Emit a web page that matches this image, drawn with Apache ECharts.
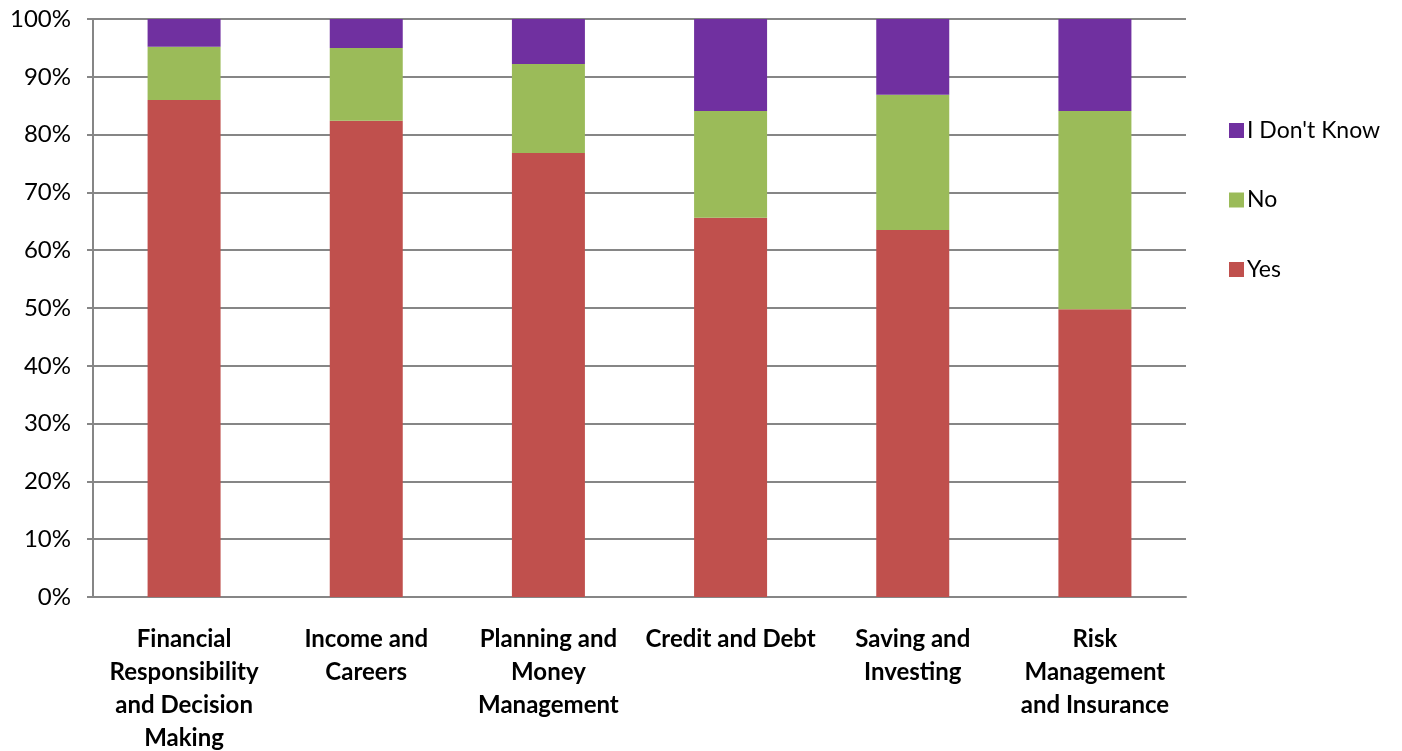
<!DOCTYPE html>
<html>
<head>
<meta charset="utf-8">
<script src="https://cdn.jsdelivr.net/npm/echarts@6/dist/echarts.min.js"></script>
<style>
  html, body { margin: 0; padding: 0; background: #ffffff; }
  #chart { width: 1402px; height: 751px; }
</style>
</head>
<body>
<div id="chart"></div>
<script>
// Topic areas (line breaks as shown under each bar)
const categories = [
  'Financial\nResponsibility\nand Decision\nMaking',
  'Income and\nCareers',
  'Planning and\nMoney\nManagement',
  'Credit and Debt',
  'Saving and\nInvesting',
  'Risk\nManagement\nand Insurance'
];

// Share of responses, percent
const yesValues      = [86.0, 82.4, 76.8, 65.6, 63.5, 49.8];
const noValues       = [9.2, 12.6, 15.4, 18.5, 23.4, 34.3];
const dontKnowValues = [4.8, 5.0, 7.8, 15.9, 13.1, 15.9];

const yTicks = [0, 10, 20, 30, 40, 50, 60, 70, 80, 90, 100];

const font = 'Lato, "Open Sans", sans-serif';

const chart = echarts.init(document.getElementById('chart'));

chart.setOption({
  animation: false,
  backgroundColor: '#ffffff',
  grid: {
    left: 93, right: 216, top: 19, bottom: 154,
    containLabel: false,
    outerBoundsMode: 'none'
  },
  legend: {
    orient: 'vertical',
    left: 1224,
    top: 114,
    itemWidth: 15,
    itemHeight: 15,
    itemGap: 46.5,
    icon: 'rect',
    textStyle: { fontFamily: font, fontSize: 23, lineHeight: 20, color: '#000000', padding: [0, 0, 0, -2] },
    data: ["I Don't Know", 'No', 'Yes']
  },
  xAxis: {
    type: 'category',
    data: categories,
    axisLine: { show: true, lineStyle: { color: '#868686', width: 2 } },
    axisTick: { show: false },
    axisLabel: {
      interval: 0,
      margin: 26,
      fontFamily: font,
      fontSize: 24,
      fontWeight: 'bold',
      color: '#000000',
      lineHeight: 33,
      align: 'center'
    }
  },
  yAxis: {
    type: 'value',
    min: 0,
    max: 100,
    interval: 10,
    axisLine: { show: true, lineStyle: { color: '#868686', width: 2 } },
    axisTick: { show: true, length: 6, inside: false, lineStyle: { color: '#868686', width: 2 } },
    splitLine: { show: true, lineStyle: { color: '#868686', width: 2 } },
    axisLabel: {
      margin: 22,
      fontFamily: font,
      fontSize: 24,
      color: '#000000',
      formatter: v => (yTicks.includes(v) ? v + '%' : '')
    }
  },
  series: [
    {
      name: 'Yes', type: 'bar', stack: 'total', barWidth: 73,
      itemStyle: { color: '#C0504D' }, data: yesValues
    },
    {
      name: 'No', type: 'bar', stack: 'total', barWidth: 73,
      itemStyle: { color: '#9BBB59' }, data: noValues
    },
    {
      name: "I Don't Know", type: 'bar', stack: 'total', barWidth: 73,
      itemStyle: { color: '#7030A0' }, data: dontKnowValues
    }
  ]
});
</script>
</body>
</html>
